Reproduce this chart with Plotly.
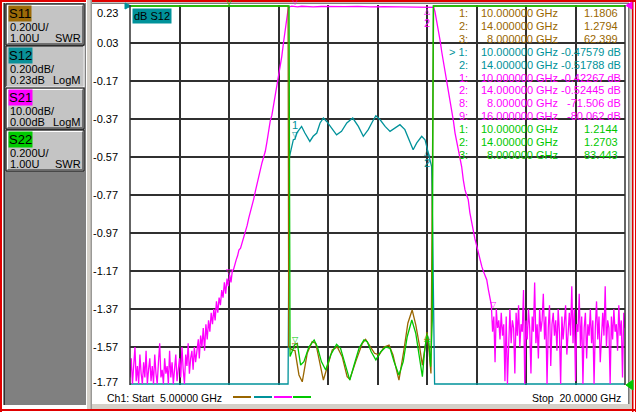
import numpy as np
import plotly.graph_objects as go

# sweep of the analyser: 401 points, 5 to 20 GHz (used for the noisy S21 stopbands)
sweep = np.linspace(5.0, 20.0, 401)

# ---- S21 (dB, 10 dB/div, ref 0 dB at top) ----
s21_stop_lo = [-98, -93, -101, -96, -90, -99, -95, -103, -92, -97,
               -100, -94, -98, -91, -102, -96, -93, -99, -95, -101,
               -92, -97, -100, -94, -89, -98, -96, -102, -93, -97,
               -95, -100, -91, -98, -94, -103, -96, -92, -99, -95,
               -93, -98, -90, -96, -100, -92, -95, -89, -97, -93,
               -91, -96, -90, -94]
s21_rise_f = [7.03, 7.07, 7.10, 7.14, 7.18, 7.22, 7.26, 7.30, 7.34, 7.38,
              7.42, 7.46, 7.50, 7.54, 7.58, 7.62, 7.66, 7.70, 7.74, 7.78,
              7.82, 7.86, 7.90, 7.94, 7.98, 8.02, 8.06, 8.10, 8.14, 8.18,
              8.22, 8.26, 8.30, 8.35, 8.40, 8.45, 8.50, 8.55, 8.60, 8.65,
              8.70, 8.75, 8.80, 8.85, 8.90, 8.95, 9.00, 9.05, 9.10, 9.15,
              9.20, 9.25, 9.30, 9.35, 9.40, 9.45, 9.50, 9.55, 9.60, 9.65,
              9.70, 9.75, 9.78, 9.81]
s21_rise = [-91, -88, -93, -87, -90, -85, -91, -84, -88, -83,
            -86, -81, -84, -80, -83, -78, -81, -77, -79, -75,
            -77, -73, -76, -72, -74, -71, -73, -70, -69.5, -68,
            -67, -66, -64.5, -64, -62.5, -61, -60, -58, -56, -54.5,
            -52.5, -51, -49, -47, -45, -43.5, -41.5, -40, -38.5, -36,
            -33, -30.5, -29, -26.5, -24, -21.5, -19, -17, -13.5, -10,
            -6.5, -3.5, -1.8, -0.7]
s21_pass_f = [9.84, 9.90, 9.95, 10.0, 10.08, 10.2, 10.35, 10.55, 10.8, 11.1,
              11.5, 11.9, 12.3, 12.7, 13.1, 13.4, 13.6, 13.8, 14.0, 14.1, 14.16]
s21_pass = [-0.45, -0.3, -0.38, -0.42, -0.5, -0.33, -0.45, -0.5, -0.4, -0.45,
            -0.42, -0.38, -0.5, -0.42, -0.45, -0.35, -0.48, -0.4, -0.52, -0.46, -0.55]
s21_fall_f = [14.20, 14.24, 14.29, 14.34, 14.40, 14.45, 14.50, 14.55, 14.60, 14.65,
              14.70, 14.75, 14.80, 14.85, 14.90, 14.95, 15.00, 15.05, 15.10, 15.15,
              15.20, 15.25, 15.30, 15.35, 15.40, 15.45, 15.51, 15.56, 15.61, 15.66,
              15.71, 15.76, 15.81, 15.86, 15.91]
s21_fall = [-0.6, -1.7, -3.9, -6.0, -9.5, -12.5, -15.0, -17.5, -20.0, -22.0,
            -24.5, -27.6, -30.5, -33.7, -36.0, -38.1, -40.7, -42.5, -46.0, -48.6,
            -50.0, -51.2, -54.7, -57.0, -60.0, -61.5, -63.5, -65.5, -67.0, -68.8,
            -70.1, -71.0, -72.3, -74.9, -77.5]
s21_stop_hi = [-79, -86, -82, -94, -80, -85, -83, -88, -81, -87,
               -84, -99, -82, -103, -86, -80, -89, -83, -85, -97,
               -81, -87, -79, -90, -84, -86, -75, -101, -83, -88,
               -80, -85, -97, -82, -86, -73, -89, -84, -93, -80,
               -86, -83, -76, -88, -82, -102, -85, -79, -95, -84,
               -81, -87, -83, -91, -80, -86, -104, -82, -88, -84,
               -79, -92, -85, -81, -87, -74, -89, -80, -99, -84,
               -86, -76, -90, -82, -101, -85, -81, -93, -84, -87,
               -80, -89, -83, -103, -85, -78, -88, -82, -94, -86,
               -81, -87, -74, -90, -83, -85, -102, -82, -88, -80,
               -86, -84, -91, -79, -87, -83, -98, -81, -85]

# ---- S12 (dB, 0.2 dB/div, ref 0.23 dB at top) ----
s12_f = [5.0, 9.79, 9.80, 9.83, 9.95, 10.0, 10.05, 10.20, 10.30, 10.45,
         10.55, 10.66, 10.76, 10.86, 10.96, 11.11, 11.26, 11.41, 11.57, 11.75,
         11.92, 12.07, 12.22, 12.35, 12.45, 12.58, 12.73, 12.88, 13.03, 13.18,
         13.33, 13.48, 13.58, 13.69, 13.84, 13.94, 14.0, 14.04, 14.14, 14.17,
         14.20, 14.23, 20.0]
s12 = [-60, -60, -1.45, -0.57, -0.479, -0.476, -0.444, -0.409, -0.444, -0.488,
       -0.461, -0.444, -0.391, -0.365, -0.383, -0.417, -0.453, -0.435, -0.391, -0.365,
       -0.409, -0.461, -0.426, -0.383, -0.353, -0.374, -0.409, -0.435, -0.417, -0.400,
       -0.426, -0.496, -0.532, -0.496, -0.461, -0.479, -0.518, -0.549, -0.62, -0.95,
       -1.50, -60, -60]

# ---- S11 (SWR, 0.2 U/div, ref 1.00 U at bottom) ----
s11_f = [5.0, 9.79, 9.80, 9.81, 9.92, 10.0, 10.12, 10.22, 10.37, 10.52,
         10.63, 10.73, 10.86, 10.98, 11.13, 11.28, 11.43, 11.58, 11.66, 11.84,
         12.04, 12.14, 12.29, 12.41, 12.55, 12.70, 12.85, 12.97, 13.10, 13.15,
         13.30, 13.42, 13.55, 13.66, 13.76, 13.86, 13.96, 14.0, 14.06, 14.12,
         14.20, 20.0]
s11 = [60, 60, 2.2, 1.20, 1.184, 1.181, 1.053, 1.017, 1.167, 1.228,
       1.219, 1.14, 1.026, 1.096, 1.184, 1.20, 1.149, 1.044, 1.030, 1.123,
       1.219, 1.24, 1.20, 1.167, 1.158, 1.20, 1.21, 1.158, 1.061, 1.026,
       1.184, 1.325, 1.395, 1.316, 1.219, 1.105, 1.219, 1.279, 1.184, 1.061,
       60, 60]

# ---- S22 (SWR, 0.2 U/div, ref 1.00 U at bottom) ----
s22_f = [5.0, 9.79, 9.82, 9.85, 9.97, 10.0, 10.07, 10.17, 10.27, 10.42,
         10.58, 10.68, 10.80, 10.93, 11.08, 11.26, 11.38, 11.54, 11.66, 11.79,
         11.94, 12.09, 12.19, 12.31, 12.45, 12.60, 12.75, 12.88, 13.0, 13.15,
         13.28, 13.40, 13.54, 13.66, 13.76, 13.86, 13.93, 14.0, 14.06, 14.11,
         14.16, 14.19, 20.0]
s22 = [60, 60, 60, 1.15, 1.21, 1.214, 1.219, 1.105, 1.123, 1.20,
       1.237, 1.20, 1.123, 1.079, 1.158, 1.214, 1.193, 1.096, 1.026, 1.105,
       1.193, 1.237, 1.228, 1.175, 1.132, 1.175, 1.20, 1.193, 1.123, 1.053,
       1.123, 1.254, 1.342, 1.272, 1.158, 1.044, 1.184, 1.270, 1.219, 1.096,
       1.342, 60, 60]

# ---- marker readouts ----
m_s11 = [('1', 10.0, 1.1806), ('2', 14.0, 1.2794), ('3', 8.0, 62.399)]
m_s12 = [('1', 10.0, -0.47579), ('2', 14.0, -0.51788)]
m_s21 = [('1', 10.0, -0.42267), ('2', 14.0, -0.52445), ('8', 8.0, -71.506), ('9', 16.0, -80.062)]
m_s22 = [('1', 10.0, 1.2144), ('2', 14.0, 1.2703), ('3', 8.0, 83.443)]

# ---- channel buttons ----
buttons = [('S11', '0.200U/', '1.00U', 'SWR'),
           ('S12', '0.200dB/', '0.23dB', 'LogM'),
           ('S21', '10.00dB/', '0.00dB', 'LogM'),
           ('S22', '0.200U/', '1.00U', 'SWR')]

BROWN = '#996600'
TEAL = '#00929a'
MAGENTA = '#ff00ff'
GREEN = '#00c800'
GRID = '#303030'
FONT = 'Liberation Sans, Arial, sans-serif'
colors = {'S11': BROWN, 'S12': TEAL, 'S21': MAGENTA, 'S22': GREEN}
btn_bg = {'S11': '#9c6a08', 'S12': '#0a9098', 'S21': '#ff00ff', 'S22': '#00cc00'}

W, H = 636, 412
PL, PR, PT, PB = 130, 625, 5, 385

S12_RANGE = (-1.77, 0.23)
S21_RANGE = (-100.0, 0.0)
SWR_RANGE = (1.0, 3.0)


def px(x):
    return (x - PL) / (PR - PL)


def py(y):
    return (PB - y) / (PB - PT)


def pin(vals, rng):
    # the analyser pins off-scale data to the graticule edge
    lo, hi = rng
    pad = (hi - lo) / (PB - PT) * 1.0
    return np.clip(np.asarray(vals, dtype=float), lo + pad, hi - pad)


f21 = list(sweep[:54]) + s21_rise_f + s21_pass_f + s21_fall_f + list(sweep[292:])
v21 = s21_stop_lo + s21_rise + s21_pass + s21_fall + s21_stop_hi

fig = go.Figure()
fig.add_trace(go.Scatter(x=s11_f, y=pin(s11, SWR_RANGE), yaxis='y3', mode='lines',
                         line=dict(color=BROWN, width=1.3), hoverinfo='skip'))
fig.add_trace(go.Scatter(x=s12_f, y=pin(s12, S12_RANGE), yaxis='y', mode='lines',
                         line=dict(color=TEAL, width=1.3), hoverinfo='skip'))
fig.add_trace(go.Scatter(x=f21, y=pin(v21, S21_RANGE), yaxis='y2', mode='lines',
                         line=dict(color=MAGENTA, width=1.3), hoverinfo='skip'))
fig.add_trace(go.Scatter(x=s22_f, y=pin(s22, SWR_RANGE), yaxis='y3', mode='lines',
                         line=dict(color=GREEN, width=1.3), hoverinfo='skip'))

shapes = []
annots = []


def rect(x0, y0, x1, y1, fill, line=None, lw=0):
    shapes.append(dict(type='rect', xref='paper', yref='paper', layer='above',
                       x0=px(x0), x1=px(x1), y0=py(y1), y1=py(y0), fillcolor=fill,
                       line=dict(color=line or fill, width=lw)))


def hline(x0, x1, y, color, w=1):
    shapes.append(dict(type='line', xref='paper', yref='paper', layer='above',
                       x0=px(x0), x1=px(x1), y0=py(y), y1=py(y), line=dict(color=color, width=w)))


def vline(x, y0, y1, color, w=1):
    shapes.append(dict(type='line', xref='paper', yref='paper', layer='above',
                       x0=px(x), x1=px(x), y0=py(y0), y1=py(y1), line=dict(color=color, width=w)))


def tri(pts, color):
    path = 'M ' + ' L '.join(f'{px(a):.5f},{py(b):.5f}' for a, b in pts) + ' Z'
    shapes.append(dict(type='path', xref='paper', yref='paper', layer='above', path=path,
                       fillcolor=color, line=dict(color=color, width=1)))


def text(x, y, s, color='black', size=11, anchor='left', **kw):
    annots.append(dict(xref='paper', yref='paper', x=px(x), y=py(y), text=s, showarrow=False,
                       xanchor=anchor, yanchor='middle', font=dict(family=FONT, size=size, color=color),
                       **kw))


# window frame and the left channel panel
rect(0, 0, W, 2, '#e00000')
rect(0, 0, 2, H, '#e00000')
rect(0, 409, W, 411, '#e00000')
rect(632, 0, 633.5, H, '#e00000')
rect(635, 0, 636, H, '#e00000')
rect(92, 404, 632, 409, '#d4d0c8')
rect(629, 3, 632, 409, '#d4d0c8')
hline(92, 629, 3.2, '#404040')
vline(628.8, 3, 404, '#404040')
rect(3, 3, 86, 405, '#808080')
vline(4.5, 3, 405, '#303030')
rect(86, 0, 92, 409, '#d4d0c8')
vline(86.5, 0, 409, 'white')
vline(91.2, 0, 409, '#808080')

for i, (name, l1, l2, mode) in enumerate(buttons):
    top = 4 + 42 * i
    rect(6, top, 84, top + 41, '#c4c4c4', '#101010', 1)
    if name == 'S12':
        hline(6, 84, top + 41, 'white', 1.5)
        vline(84, top, top + 41, 'white', 1.5)
    else:
        hline(7.5, 83, top + 1.5, 'white', 1)
        vline(7.5, top + 1.5, top + 40, 'white', 1)
        hline(7.5, 83, top + 39.5, '#707070', 1)
        vline(82.5, top + 1.5, top + 40, '#707070', 1)
    text(8, top + 9.5, name, size=13, bgcolor=btn_bg[name], borderpad=0)
    text(8, top + 23, l1)
    text(8, top + 34, l2)
    text(82.5, top + 34, mode, anchor='right')

# y scale labels (S12 graticule)
ytick_vals = [0.23 - 0.2 * k for k in range(11)]
for k, v in enumerate(ytick_vals):
    shift = -8 if k == 0 else (3 if k == len(ytick_vals) - 1 else 0)
    annots.append(dict(xref='paper', yref='y', x=px(120), y=v, text=f'{v:.2f}', showarrow=False,
                       xanchor='right', yanchor='middle', yshift=shift,
                       font=dict(family=FONT, size=11, color='black')))

text(132, 15.5, 'dB S12', bgcolor=TEAL, borderpad=1)

# marker readout table
row = 0
for name, marks in [('S11', m_s11), ('S12', m_s12), ('S21', m_s21), ('S22', m_s22)]:
    c = colors[name]
    for num, f, v in marks:
        y = 13.3 + 12.85 * row
        tag = f'> {num}:' if (name == 'S12' and num == '1') else f'{num}:'
        text(469.5, y, tag, c, anchor='right')
        text(559.5, y, f'{f:.6f} GHz', c, anchor='right')
        if name in ('S11', 'S22'):
            text(619.5, y, f'{v:.5g}', c, anchor='right')
        else:
            text(622.5, y, f'{v:.5g} dB', c, anchor='right')
        row += 1

# marker symbols on the traces (numbers only where they can be read in the original)
axes = {'S11': ('y3', SWR_RANGE), 'S12': ('y', S12_RANGE), 'S21': ('y2', S21_RANGE), 'S22': ('y3', SWR_RANGE)}
for name, marks in [('S11', m_s11), ('S12', m_s12), ('S21', m_s21), ('S22', m_s22)]:
    yref, rng = axes[name]
    c = colors[name]
    for num, f, v in marks:
        yv = float(pin([v], rng)[0])
        below = num == '2'
        sym = '\u25b3' if below else '\u25bd'
        annots.append(dict(xref='x', yref=yref, x=f, y=yv, text=sym, showarrow=False,
                           yshift=-5 if below else 5, font=dict(family='DejaVu Sans', size=8, color=c)))
        if name in ('S12', 'S21') and num in ('1', '2'):
            annots.append(dict(xref='x', yref=yref, x=f, y=yv, text=num, showarrow=False,
                               yshift=-16 if below else 14, font=dict(family=FONT, size=11, color=c)))

# reference position arrows
tri([(125, 3), (131, 6), (125, 9)], TEAL)
tri([(632, 2), (626, 5.5), (632, 9)], MAGENTA)
tri([(633, 380), (626, 385), (633, 390)], GREEN)

# graticule side lines
vline(PL, PT, PB, GRID, 1.5)
vline(PR, PT, PB, GRID, 1.5)

# footer
text(105, 397.5, 'Ch1: Start  5.00000 GHz', size=10.5)
text(623, 397.5, 'Stop  20.0000 GHz', size=10.5, anchor='right')
for x0, c in zip([233, 254, 274, 293], [BROWN, TEAL, MAGENTA, GREEN]):
    hline(x0, x0 + 18, 397, c, 2)

fig.update_layout(
    width=W, height=H,
    margin=dict(l=PL, r=W - PR, t=PT, b=H - PB),
    paper_bgcolor='white', plot_bgcolor='white',
    showlegend=False,
    xaxis=dict(range=[5, 20], tick0=5, dtick=1.5, showgrid=True, gridcolor=GRID, gridwidth=1.5,
               showticklabels=False, zeroline=False, ticks=''),
    yaxis=dict(range=list(S12_RANGE), tick0=0.23, dtick=0.2, showgrid=True, gridcolor=GRID,
               gridwidth=1.5, showticklabels=False, zeroline=False, ticks=''),
    yaxis2=dict(range=list(S21_RANGE), overlaying='y', visible=False),
    yaxis3=dict(range=list(SWR_RANGE), overlaying='y', visible=False),
    shapes=shapes,
    annotations=annots,
)

# the page is photographed at exactly the figure size, so drop the default body margin
fig.write_html('out.html', config={'displayModeBar': False},
               post_script="document.body.style.margin='0px';")
